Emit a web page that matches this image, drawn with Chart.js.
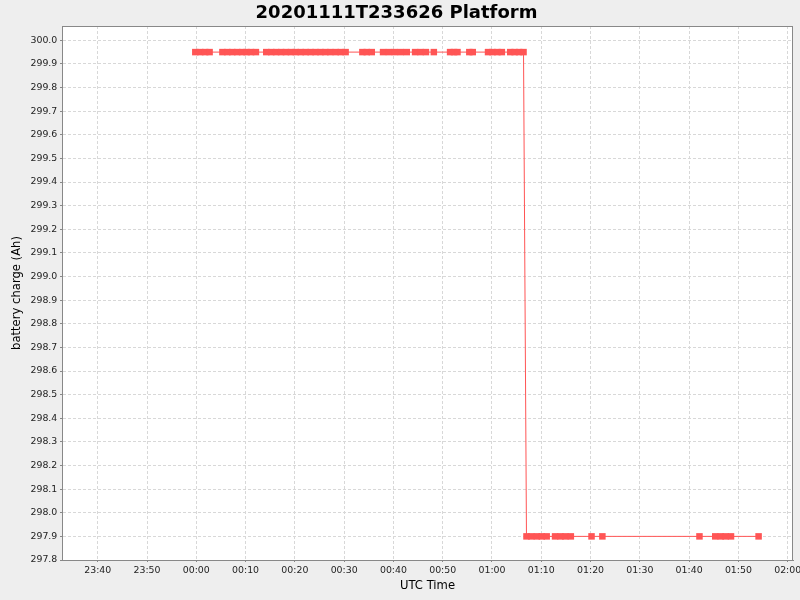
<!DOCTYPE html>
<html lang="en">
<head>
<meta charset="UTF-8">
<title>20201111T233626 Platform</title>
<script src="https://cdn.jsdelivr.net/npm/chart.js@4.4.0/dist/chart.umd.min.js"></script>
<style>
  body { margin: 0; background: #eeeeee; }
</style>
</head>
<body>
<canvas id="chart" width="800" height="600"></canvas>
<script>
// sample times, minutes after 00:00 UTC (negative = before midnight)
const times = [
  -0.2, 0.8, 1.8, 2.7,
  5.3, 6.3, 7.3, 8.3, 9.3, 10.2, 11.1, 12.1,
  14.2, 15.2, 16.2, 17.2, 18.2, 19.2, 20.2, 21.2, 22.2, 23.2, 24.2, 25.2, 26.2, 27.2, 28.3, 29.3, 30.3,
  33.7, 34.6, 35.6,
  37.9, 39.1, 40.3, 41.5, 42.7,
  44.4, 45.5, 46.6,
  48.2,
  51.5, 52.3, 53.0,
  55.4, 56.1,
  59.2, 60.1, 61.1, 62.0,
  63.7, 64.6, 65.5, 66.4,
  67.0, 68.0, 69.1, 70.1, 71.1,
  72.8, 73.9, 74.9, 76.0,
  80.2, 82.4,
  102.1,
  105.3, 106.4, 107.4, 108.5,
  114.1
];
// battery charge (Ah)
const charge = [
  299.95, 299.95, 299.95, 299.95,
  299.95, 299.95, 299.95, 299.95, 299.95, 299.95, 299.95, 299.95,
  299.95, 299.95, 299.95, 299.95, 299.95, 299.95, 299.95, 299.95, 299.95, 299.95, 299.95, 299.95, 299.95, 299.95, 299.95, 299.95, 299.95,
  299.95, 299.95, 299.95,
  299.95, 299.95, 299.95, 299.95, 299.95,
  299.95, 299.95, 299.95,
  299.95,
  299.95, 299.95, 299.95,
  299.95, 299.95,
  299.95, 299.95, 299.95, 299.95,
  299.95, 299.95, 299.95, 299.95,
  297.9, 297.9, 297.9, 297.9, 297.9,
  297.9, 297.9, 297.9, 297.9,
  297.9, 297.9,
  297.9,
  297.9, 297.9, 297.9, 297.9,
  297.9
];
const xTicks = [-20, -10, 0, 10, 20, 30, 40, 50, 60, 70, 80, 90, 100, 110, 120];
const yTicks = [297.8, 297.9, 298.0, 298.1, 298.2, 298.3, 298.4, 298.5, 298.6, 298.7, 298.8,
                298.9, 299.0, 299.1, 299.2, 299.3, 299.4, 299.5, 299.6, 299.7, 299.8, 299.9, 300.0];

function hhmm(m) {
  const t = Math.round(((m % 1440) + 1440) % 1440);
  const h = Math.floor(t / 60), mm = t % 60;
  return String(h).padStart(2, '0') + ':' + String(mm).padStart(2, '0');
}

const points = times.map((t, i) => ({x: t, y: charge[i]}));

// page background, white plot area and plot frame
const frame = {
  id: 'frame',
  beforeDraw(chart) {
    const {ctx, chartArea: a} = chart;
    ctx.save();
    ctx.fillStyle = '#eeeeee';
    ctx.fillRect(0, 0, chart.width, chart.height);
    ctx.fillStyle = '#ffffff';
    ctx.fillRect(a.left, a.top, a.right - a.left, a.bottom - a.top);
    ctx.restore();
  },
  afterDraw(chart) {
    const {ctx, chartArea: a} = chart;
    ctx.save();
    ctx.strokeStyle = '#888888';
    ctx.lineWidth = 1;
    ctx.strokeRect(a.left + 0.5, a.top + 0.5, a.right - a.left - 1, a.bottom - a.top);
    ctx.restore();
  }
};

Chart.defaults.font.family = "'DejaVu Sans', sans-serif";
Chart.defaults.color = '#222';

const ctx = document.getElementById('chart').getContext('2d');
new Chart(ctx, {
  type: 'scatter',
  data: {
    datasets: [{
      data: points,
      showLine: true,
      borderColor: '#ff5555',
      borderWidth: 1,
      pointStyle: 'rect',
      pointRadius: 4.6,
      pointBorderWidth: 0,
      pointBackgroundColor: '#ff5555',
      tension: 0
    }]
  },
  options: {
    responsive: false,
    devicePixelRatio: 1,
    animation: false,
    layout: { padding: { left: 0, right: 7, top: 0, bottom: 0 } },
    plugins: {
      legend: { display: false },
      tooltip: { enabled: false },
      title: {
        display: true,
        text: '20201111T233626 Platform',
        color: '#000',
        font: { size: 18, weight: 'bold' },
        padding: { top: 2.5, bottom: 1.9 }
      }
    },
    scales: {
      x: {
        type: 'linear',
        min: -27.25,
        max: 121.08,
        afterBuildTicks: s => { s.ticks = xTicks.map(v => ({value: v})); },
        afterFit: s => { s.height = 40; s.paddingLeft = 0; s.paddingRight = 0; },
        ticks: {
          callback: v => hhmm(v),
          font: { size: 9.4 },
          padding: 2.5,
          maxRotation: 0,
          autoSkip: false
        },
        grid: {
          color: '#d8d8d8',
          tickLength: 2,
          tickColor: '#888888',
          tickBorderDash: []
        },
        border: { color: '#888888', dash: [3, 2] },
        title: {
          display: true,
          text: 'UTC Time',
          color: '#000',
          font: { size: 11.6 },
          padding: { top: 0, bottom: 7.5 }
        }
      },
      y: {
        min: 297.8,
        max: 300.0605,
        afterBuildTicks: s => { s.ticks = yTicks.map(v => ({value: v})); },
        afterFit: s => { s.width = 62; s.paddingTop = 0; s.paddingBottom = 0; },
        ticks: {
          callback: v => v.toFixed(1),
          font: { size: 9.4 },
          padding: 2.7,
          autoSkip: false
        },
        grid: {
          color: '#d8d8d8',
          tickLength: 2,
          tickColor: '#888888',
          tickBorderDash: []
        },
        border: { color: '#888888', dash: [3, 2] },
        title: {
          display: true,
          text: 'battery charge (Ah)',
          color: '#000',
          font: { size: 11.6 },
          padding: { top: 10, bottom: 0 }
        }
      }
    }
  },
  plugins: [frame]
});
</script>
</body>
</html>
